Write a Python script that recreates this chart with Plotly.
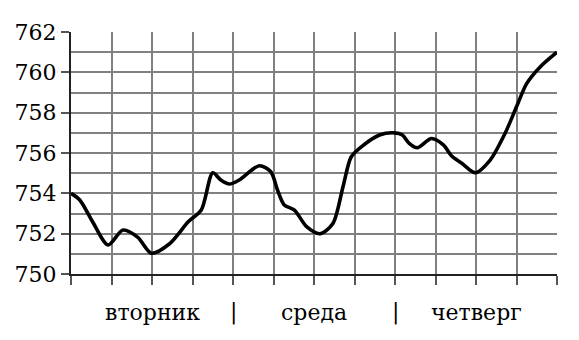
import plotly.graph_objects as go

# data
hours = [0, 1.3, 3.3, 5.5, 7.7, 9.9, 11.9, 14.6, 17.4, 19.3, 21.0, 22.2, 23.5, 24.9,
         27.9, 29.6, 30.6, 31.6, 33.1, 34.9, 36.9, 38.8, 40.3, 41.5, 43.0, 45.7,
         47.9, 49.1, 50.1, 51.3, 53.4, 55.2, 56.4, 57.9, 59.9, 62.1, 64.3, 66.0,
         67.5, 69.5, 72]
pressure = [754.0, 753.67, 752.53, 751.44, 752.18, 751.82, 751.03, 751.5, 752.6,
            753.17, 755.02, 754.66, 754.46, 754.66, 755.37, 755.07, 754.16, 753.42,
            753.17, 752.35, 752.0, 752.5, 754.33, 755.8, 756.3, 756.89, 757.0,
            756.89, 756.48, 756.26, 756.72, 756.39, 755.85, 755.49, 755.02, 755.65,
            756.97, 758.29, 759.44, 760.27, 761.0]
x_grid = list(range(0, 73, 6))
y_ticks = [750, 752, 754, 756, 758, 760, 762]
day_labels = ["вторник", "|", "среда", "|", "четверг"]
day_pos = [12, 24, 36, 48, 60]

FONT = "DejaVu Serif"

fig = go.Figure()
fig.add_trace(go.Scatter(
    x=hours, y=pressure, mode="lines",
    line=dict(color="black", width=3.6, shape="spline", smoothing=0.8),
    hoverinfo="skip", showlegend=False,
))

for p, t in zip(day_pos, day_labels):
    fig.add_annotation(x=p, y=0, xref="x", yref="paper", text=t, showarrow=False,
                       yanchor="middle", yshift=-38,
                       font=dict(family=FONT, size=22, color="black"))

fig.update_layout(
    width=579, height=340,
    margin=dict(l=71, r=22, t=32, b=66),
    paper_bgcolor="white", plot_bgcolor="white",
    font=dict(family=FONT, size=22, color="black"),
    xaxis=dict(
        range=[0, 72], tickvals=x_grid, showticklabels=False,
        ticks="outside", ticklen=9, tickwidth=1.5, tickcolor="#555555",
        showgrid=True, gridcolor="#808080", gridwidth=1.5,
        showline=True, linecolor="#222222", linewidth=2, mirror=False,
        zeroline=False, fixedrange=True,
    ),
    yaxis=dict(
        range=[750, 762], tickvals=y_ticks,
        ticks="outside", ticklen=8, tickwidth=1.5, tickcolor="#555555",
        showgrid=True, gridcolor="#808080", gridwidth=1.5,
        minor=dict(dtick=1, showgrid=True, gridcolor="#808080", gridwidth=1.5, ticks=""),
        showline=True, linecolor="#222222", linewidth=2,
        zeroline=False, fixedrange=True,
        tickfont=dict(family=FONT, size=22, color="black"),
    ),
)
fig.write_html("out.html")
